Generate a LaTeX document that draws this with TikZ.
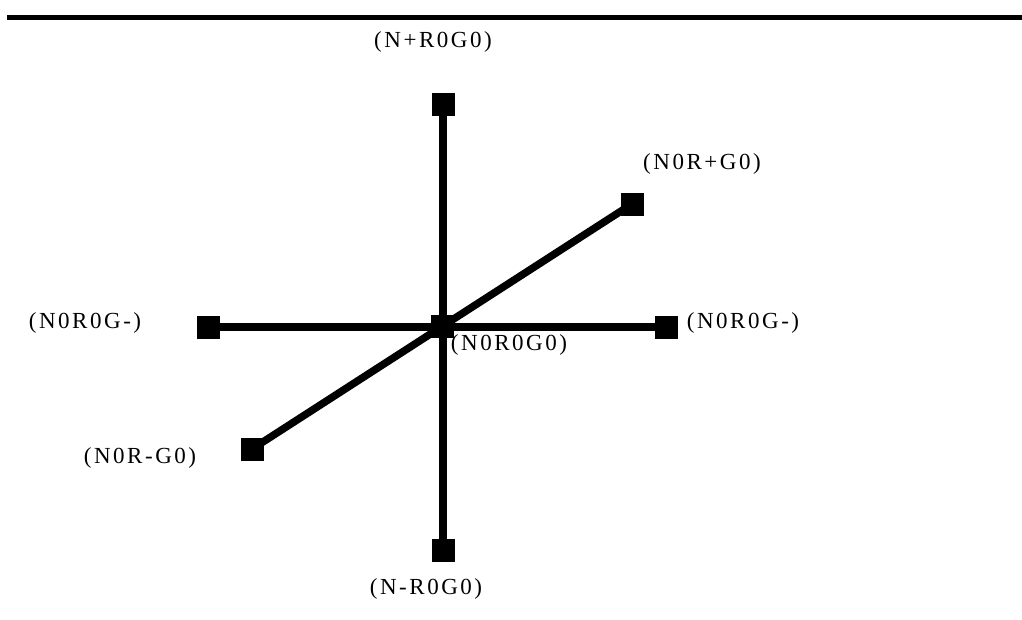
\documentclass[tikz,border=0pt]{standalone}
\usepackage{fontspec}
\setmainfont{Liberation Serif}[LetterSpace=11]
\usetikzlibrary{positioning}

\begin{document}
\begin{tikzpicture}[
  x=1pt, y=-1pt,
  font=\fontsize{23}{27}\selectfont,
  pt/.style={fill=black, inner sep=0pt, minimum size=23pt},
  lbl/.style={inner sep=0pt},
  bar/.style={line width=7.5pt},
  rule/.style={line width=5pt},
]
\useasboundingbox (0,0) rectangle (1022,619);
\coordinate (r0) at (7,17.5);
\coordinate (r1) at (1022,17.5);
\draw[rule] (r0) -- (r1);

\node[pt] (c)  at (442,326) {};
\node[pt] (nu) at (443,104) {};
\node[pt] (nd) at (443,550) {};
\node[pt] (gl) at (208,327) {};
\node[pt] (gr) at (666,327) {};
\node[pt] (ru) at (632,204) {};
\node[pt] (rd) at (252,449) {};

\draw[bar] (nu.center) -- (nd.center);
\draw[bar] (gl.center) -- (gr.center);
\draw[bar] (rd.center) -- (ru.center);

\node[lbl] (lnu) at (433,42)  {(N+R0G0)};
\node[lbl] (lnd) at (426,589) {(N-R0G0)};
\node[lbl] (lru) at (702,164) {(N0R+G0)};
\node[lbl] (lrd) at (140,458) {(N0R-G0)};
\node[lbl] (lgl) at (85,323)  {(N0R0G-)};
\node[lbl] (lgr) at (743,323) {(N0R0G-)};
\node[lbl] (lc)  at (509,345) {(N0R0G0)};
\end{tikzpicture}
\end{document}
